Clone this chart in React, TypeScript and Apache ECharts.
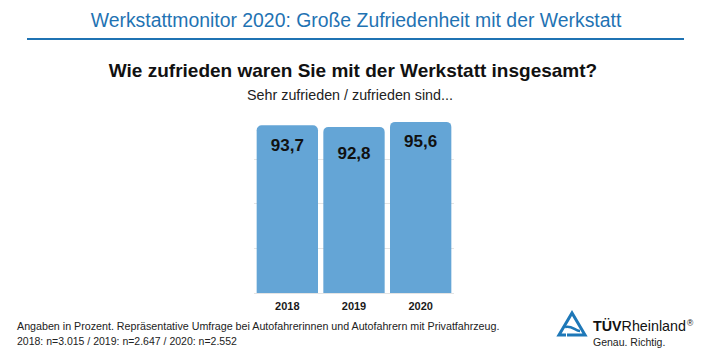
import React, { useEffect, useRef } from "react";
import * as echarts from "echarts";

const categories = ["2018", "2019", "2020"];
const values = [93.7, 92.8, 95.6];
const footnoteLines = [
  "Angaben in Prozent. Repräsentative Umfrage bei Autofahrerinnen und Autofahrern mit Privatfahrzeug.",
  "2018: n=3.015 / 2019: n=2.647 / 2020: n=2.552",
];

// label offset from bar top (style only)
const labelDistances = [12, 18, 11];

export default function App() {
  const ref = useRef<HTMLDivElement>(null);
  useEffect(() => {
    if (!ref.current) return;
    const chart = echarts.init(ref.current, undefined, { renderer: "svg" });
    const font = "'Liberation Sans', Arial, sans-serif";
    chart.setOption({
      animation: false,
      backgroundColor: "#ffffff",
      grid: { left: 254, right: 256, top: 114, bottom: 62 },
      xAxis: {
        type: "category",
        data: categories,
        axisLine: { show: false },
        axisTick: { show: false },
        axisLabel: {
          color: "#1a1a1a",
          fontWeight: "bold",
          fontSize: 11,
          fontFamily: font,
          margin: 7,
        },
      },
      yAxis: {
        type: "value",
        min: 0,
        max: 100,
        interval: 25,
        axisLabel: { show: false },
        axisLine: { show: false },
        axisTick: { show: false },
        splitLine: {
          show: true,
          showMaxLine: false,
          lineStyle: { color: "#e4e4e4", width: 1 },
        },
      },
      series: [
        {
          type: "bar",
          data: values.map((v, i) => ({ value: v, label: { distance: labelDistances[i] } })),
          barCategoryGap: "8%",
          itemStyle: { color: "#64a5d6", borderRadius: [5, 5, 0, 0] },
          label: {
            show: true,
            position: "insideTop",
            color: "#111111",
            fontWeight: "bold",
            fontSize: 17,
            fontFamily: font,
            formatter: (p: any) => String(p.value).replace(".", ","),
          },
        },
      ],
      graphic: [
        {
          type: "text",
          x: 356,
          y: 20,
          style: {
            text: "Werkstattmonitor 2020: Große Zufriedenheit mit der Werkstatt",
            font: `19.4px ${font}`,
            fill: "#1f73b3",
            textAlign: "center",
            textVerticalAlign: "middle",
          },
        },
        {
          type: "line",
          shape: { x1: 27, y1: 39, x2: 684, y2: 39 },
          style: { stroke: "#1f73b3", lineWidth: 2 },
        },
        {
          type: "text",
          x: 353,
          y: 70,
          style: {
            text: "Wie zufrieden waren Sie mit der Werkstatt insgesamt?",
            font: `bold 19px ${font}`,
            fill: "#111111",
            textAlign: "center",
            textVerticalAlign: "middle",
          },
        },
        {
          type: "text",
          x: 350,
          y: 95,
          style: {
            text: "Sehr zufrieden / zufrieden sind...",
            font: `14.3px ${font}`,
            fill: "#222222",
            textAlign: "center",
            textVerticalAlign: "middle",
          },
        },
        {
          type: "text",
          x: 17,
          y: 326,
          style: {
            text: footnoteLines[0],
            font: `10.7px ${font}`,
            fill: "#222222",
            textVerticalAlign: "middle",
          },
        },
        {
          type: "text",
          x: 17,
          y: 341,
          style: {
            text: footnoteLines[1],
            font: `10.5px ${font}`,
            fill: "#222222",
            textVerticalAlign: "middle",
          },
        },
        {
          type: "polyline",
          shape: { points: [[566, 335], [559, 335], [572, 313], [585, 335], [567, 335]] },
          style: { stroke: "#1e78b8", lineWidth: 3, fill: null, lineJoin: "miter" },
        },
        {
          type: "bezierCurve",
          shape: { x1: 565, y1: 327, x2: 580, y2: 331, cpx1: 572, cpy1: 325, cpx2: 575, cpy2: 331 },
          style: { stroke: "#1e78b8", lineWidth: 2.5, fill: null },
        },
        {
          type: "text",
          x: 593,
          y: 326,
          style: {
            rich: {
              b: { font: `bold 14.3px ${font}`, fill: "#111111" },
              r: { font: `14.3px ${font}`, fill: "#111111" },
              s: { font: `8.5px ${font}`, fill: "#111111", verticalAlign: "top", padding: [0, 0, 6, 1] },
            },
            text: "{b|TÜV}{r|Rheinland}{s|®}",
            textVerticalAlign: "middle",
          },
        },
        {
          type: "text",
          x: 593,
          y: 342,
          style: {
            text: "Genau. Richtig.",
            font: `10.5px ${font}`,
            fill: "#222222",
            textVerticalAlign: "middle",
          },
        },
      ],
    });
    return () => chart.dispose();
  }, []);
  return <div ref={ref} style={{ width: 710, height: 355, position: "absolute", left: 0, top: 0 }} />;
}
